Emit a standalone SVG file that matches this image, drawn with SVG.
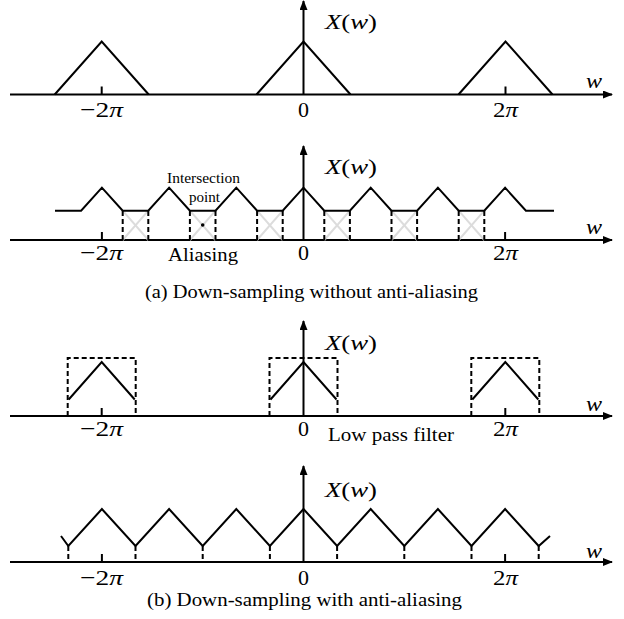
<svg xmlns="http://www.w3.org/2000/svg" width="624" height="619" viewBox="0 0 624 619">
<defs>
<marker id="arr" markerWidth="10" markerHeight="8" refX="9" refY="4" orient="auto" markerUnits="userSpaceOnUse">
<path d="M0,0 L10,4 L0,8 Z" fill="#000"/>
</marker>
<style>
.ax{stroke:#000;stroke-width:2;fill:none}
.ln{stroke:#000;stroke-width:2;fill:none;stroke-linejoin:miter}
.tk{stroke:#000;stroke-width:2}
.ds{stroke:#000;stroke-width:2;stroke-dasharray:5,3;fill:none}
.gx{stroke:#dcdcdc;stroke-width:2}
.m{font-family:"Liberation Serif","DejaVu Serif",serif;font-size:22px;fill:#000}
.i{font-style:italic}
.t{font-family:"Liberation Serif","Times New Roman",serif;fill:#000}
</style>
</defs>
<rect width="624" height="619" fill="#fff"/>

<g id="connectors">
<line class="ax" x1="10" y1="94.5" x2="612" y2="94.5" marker-end="url(#arr)"/>
<line class="ax" x1="303.5" y1="94.5" x2="303.5" y2="1" marker-end="url(#arr)"/>
<line class="ax" x1="10" y1="240" x2="612" y2="240" marker-end="url(#arr)"/>
<line class="ax" x1="303.5" y1="240" x2="303.5" y2="146" marker-end="url(#arr)"/>
<line class="ax" x1="10" y1="416" x2="612" y2="416" marker-end="url(#arr)"/>
<line class="ax" x1="303.5" y1="416" x2="303.5" y2="321" marker-end="url(#arr)"/>
<line class="ax" x1="10" y1="562" x2="612" y2="562" marker-end="url(#arr)"/>
<line class="ax" x1="303.5" y1="562" x2="303.5" y2="466" marker-end="url(#arr)"/>
</g>

<g id="panel1">
<polyline class="ln" points="54.7,94.5 101.7,41.5 148.7,94.5"/>
<polyline class="ln" points="256.5,94.5 303.5,41.5 350.5,94.5"/>
<polyline class="ln" points="458.5,94.5 505.5,41.5 552.5,94.5"/>
<line class="tk" x1="101.7" y1="86.5" x2="101.7" y2="94.5"/>
<line class="tk" x1="505.5" y1="86.5" x2="505.5" y2="94.5"/>
<text class="m" x="325" y="29" textLength="52" lengthAdjust="spacingAndGlyphs"><tspan class="i">X</tspan>(<tspan class="i">w</tspan>)</text>
<text class="m i" x="586" y="88" textLength="16" lengthAdjust="spacingAndGlyphs">w</text>
<text class="m" x="80" y="117" textLength="43" lengthAdjust="spacingAndGlyphs">−2<tspan class="i">π</tspan></text>
<text class="m" x="298" y="117" textLength="11" lengthAdjust="spacingAndGlyphs">0</text>
<text class="m" x="493" y="117" textLength="25" lengthAdjust="spacingAndGlyphs">2<tspan class="i">π</tspan></text>
</g>

<g id="panel2">
<g class="gx">
<line x1="122.7" y1="210.7" x2="148.3" y2="240"/><line x1="148.3" y1="210.7" x2="122.7" y2="240"/>
<line x1="189.9" y1="210.7" x2="215.5" y2="240"/><line x1="215.5" y1="210.7" x2="189.9" y2="240"/>
<line x1="257.1" y1="210.7" x2="282.7" y2="240"/><line x1="282.7" y1="210.7" x2="257.1" y2="240"/>
<line x1="324.3" y1="210.7" x2="349.9" y2="240"/><line x1="349.9" y1="210.7" x2="324.3" y2="240"/>
<line x1="391.5" y1="210.7" x2="417.1" y2="240"/><line x1="417.1" y1="210.7" x2="391.5" y2="240"/>
<line x1="458.7" y1="210.7" x2="484.3" y2="240"/><line x1="484.3" y1="210.7" x2="458.7" y2="240"/>
</g>
<polyline class="ln" points="55,210.7 81.1,210.7 101.9,187.7 122.7,210.7 148.3,210.7 169.1,187.7 189.9,210.7 215.5,210.7 236.3,187.7 257.1,210.7 282.7,210.7 303.5,187.7 324.3,210.7 349.9,210.7 370.7,187.7 391.5,210.7 417.1,210.7 437.9,187.7 458.7,210.7 484.3,210.7 505.1,187.7 525.9,210.7 554,210.7"/>
<g class="ds">
<line x1="122.7" y1="211" x2="122.7" y2="240"/><line x1="148.3" y1="211" x2="148.3" y2="240"/>
<line x1="189.9" y1="211" x2="189.9" y2="240"/><line x1="215.5" y1="211" x2="215.5" y2="240"/>
<line x1="257.1" y1="211" x2="257.1" y2="240"/><line x1="282.7" y1="211" x2="282.7" y2="240"/>
<line x1="324.3" y1="211" x2="324.3" y2="240"/><line x1="349.9" y1="211" x2="349.9" y2="240"/>
<line x1="391.5" y1="211" x2="391.5" y2="240"/><line x1="417.1" y1="211" x2="417.1" y2="240"/>
<line x1="458.7" y1="211" x2="458.7" y2="240"/><line x1="484.3" y1="211" x2="484.3" y2="240"/>
</g>
<circle cx="202.7" cy="225" r="1.8" fill="#000"/>
<line class="tk" x1="101.9" y1="232" x2="101.9" y2="240"/>
<line class="tk" x1="505.1" y1="232" x2="505.1" y2="240"/>
<text class="t" x="167" y="183" font-size="15" textLength="73" lengthAdjust="spacingAndGlyphs">Intersection</text>
<text class="t" x="189" y="201.5" font-size="15" textLength="31" lengthAdjust="spacingAndGlyphs">point</text>
<text class="m" x="325" y="174" textLength="52" lengthAdjust="spacingAndGlyphs"><tspan class="i">X</tspan>(<tspan class="i">w</tspan>)</text>
<text class="m i" x="586" y="234" textLength="16" lengthAdjust="spacingAndGlyphs">w</text>
<text class="m" x="80" y="260" textLength="43" lengthAdjust="spacingAndGlyphs">−2<tspan class="i">π</tspan></text>
<text class="m" x="298" y="260" textLength="11" lengthAdjust="spacingAndGlyphs">0</text>
<text class="m" x="493" y="260" textLength="25" lengthAdjust="spacingAndGlyphs">2<tspan class="i">π</tspan></text>
<text class="t" x="168" y="261" font-size="19" textLength="70" lengthAdjust="spacingAndGlyphs">Aliasing</text>
<text class="t" x="145" y="298" font-size="19" textLength="333" lengthAdjust="spacingAndGlyphs">(a) Down-sampling without anti-aliasing</text>
</g>

<g id="panel3">
<g class="ds">
<polyline points="67.7,416 67.7,358 135.7,358 135.7,416"/>
<polyline points="269.5,416 269.5,358 337.5,358 337.5,416"/>
<polyline points="471.3,416 471.3,358 539.3,358 539.3,416"/>
</g>
<polyline class="ln" points="68.7,399.5 101.7,362 134.7,399.5"/>
<polyline class="ln" points="270.5,399.5 303.5,362 336.5,399.5"/>
<polyline class="ln" points="472.3,399.5 505.3,362 538.3,399.5"/>
<line class="tk" x1="101.7" y1="408" x2="101.7" y2="416"/>
<line class="tk" x1="505.3" y1="408" x2="505.3" y2="416"/>
<text class="m" x="325" y="350" textLength="52" lengthAdjust="spacingAndGlyphs"><tspan class="i">X</tspan>(<tspan class="i">w</tspan>)</text>
<text class="m i" x="586" y="411" textLength="16" lengthAdjust="spacingAndGlyphs">w</text>
<text class="m" x="80" y="436" textLength="43" lengthAdjust="spacingAndGlyphs">−2<tspan class="i">π</tspan></text>
<text class="m" x="298" y="436" textLength="11" lengthAdjust="spacingAndGlyphs">0</text>
<text class="m" x="493" y="436" textLength="25" lengthAdjust="spacingAndGlyphs">2<tspan class="i">π</tspan></text>
<text class="t" x="328" y="441" font-size="18" textLength="126" lengthAdjust="spacingAndGlyphs">Low pass filter</text>
</g>

<g id="panel4">
<polyline class="ln" points="61,536 68.3,546 101.9,509 135.5,546 169.1,509 202.7,546 236.3,509 269.9,546 303.5,509 337.1,546 370.7,509 404.3,546 437.9,509 471.5,546 505.1,509 538.7,546 550,536"/>
<g class="ds">
<line x1="68.3" y1="546" x2="68.3" y2="562"/>
<line x1="135.5" y1="546" x2="135.5" y2="562"/>
<line x1="202.7" y1="546" x2="202.7" y2="562"/>
<line x1="269.9" y1="546" x2="269.9" y2="562"/>
<line x1="337.1" y1="546" x2="337.1" y2="562"/>
<line x1="404.3" y1="546" x2="404.3" y2="562"/>
<line x1="471.5" y1="546" x2="471.5" y2="562"/>
<line x1="538.7" y1="546" x2="538.7" y2="562"/>
</g>
<line class="tk" x1="101.9" y1="554" x2="101.9" y2="562"/>
<line class="tk" x1="505.1" y1="554" x2="505.1" y2="562"/>
<text class="m" x="325" y="497" textLength="52" lengthAdjust="spacingAndGlyphs"><tspan class="i">X</tspan>(<tspan class="i">w</tspan>)</text>
<text class="m i" x="586" y="558" textLength="16" lengthAdjust="spacingAndGlyphs">w</text>
<text class="m" x="80" y="585" textLength="43" lengthAdjust="spacingAndGlyphs">−2<tspan class="i">π</tspan></text>
<text class="m" x="298" y="585" textLength="11" lengthAdjust="spacingAndGlyphs">0</text>
<text class="m" x="493" y="585" textLength="25" lengthAdjust="spacingAndGlyphs">2<tspan class="i">π</tspan></text>
<text class="t" x="147" y="606" font-size="19" textLength="315" lengthAdjust="spacingAndGlyphs">(b) Down-sampling with anti-aliasing</text>
</g>
</svg>
